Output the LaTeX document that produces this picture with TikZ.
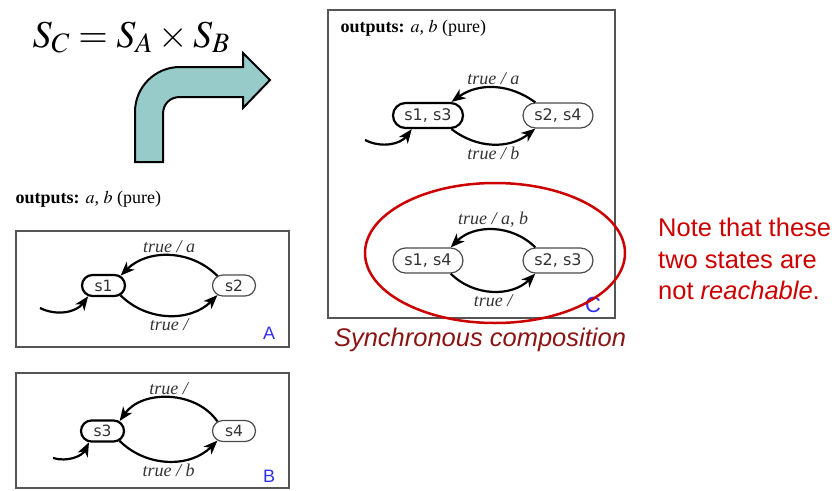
\documentclass[tikz,border=0pt]{standalone}
\usepackage{mathptmx}
\usepackage{fontspec}
\setmainfont{Liberation Serif}
\newfontfamily\arialf{Liberation Sans}
\newfontfamily\lucidaf{DejaVu Sans}
\usetikzlibrary{arrows.meta,shapes.misc}
\definecolor{boxgray}{HTML}{555555}
\definecolor{tealfill}{HTML}{96CBCA}
\definecolor{notered}{HTML}{CC0000}
\definecolor{darkred}{HTML}{8B1414}
\definecolor{letterblue}{HTML}{3030F0}
\definecolor{statetext}{HTML}{333333}
\tikzset{
  fsm/.style={draw=boxgray,line width=1.5pt},
  state/.style={rounded rectangle,draw=black!70,line width=1.2pt,inner sep=0pt,text=statetext},
  startstate/.style={draw=black,line width=2.2pt},
  smallst/.style={state,minimum width=43pt,minimum height=21pt,font=\lucidaf\fontsize{15.5}{17}\selectfont},
  bigst/.style={state,minimum width=70pt,minimum height=25pt,font=\lucidaf\fontsize{16}{18}\selectfont},
  trans/.style={-{Stealth[length=14pt,width=11pt,inset=4pt]},line width=2.2pt},
  lbl/.style={font=\fontsize{18}{20}\selectfont\itshape,text=statetext,inner sep=2pt},
  tag/.style={font=\arialf\fontsize{18}{20}\selectfont,text=letterblue}
}

\begin{document}
\begin{tikzpicture}[x=1pt,y=1pt]
\useasboundingbox (0,0) rectangle (838,-490);
% product of the state sets
\node[anchor=base west,font=\fontsize{38}{42}\selectfont] (eq) at (29,-47) {$S_C = S_A \times S_B$};
\filldraw[fill=tealfill,draw=black,line width=2pt,line join=miter]
  (135,-162) -- (135,-112) .. controls (135,-87) and (155,-67) .. (180,-67) -- (243,-67) -- (243,-53)
  -- (270,-80) -- (243,-108) -- (243,-97) -- (180,-97) .. controls (170,-97) and (163,-104) .. (163,-114)
  -- (163,-162) -- cycle;
\node[anchor=base west,font=\fontsize{18}{20}\selectfont] (outA) at (12,-203) {\textbf{outputs:} $a$, $b$ (pure)};

% machine A
\draw[fsm] (16,-231) rectangle (289,-347);
\node[smallst,startstate] (s1) at (103.5,-285.5) {s1};
\node[smallst] (s2) at (234,-285.5) {s2};
\coordinate (i1) at (40,-308);
\draw[trans] (s2.150) to[bend right=45] node[lbl,above] {true / a} (s1.30);
\draw[trans] (s1.-30) to[bend right=45] node[lbl,below] {true /} (s2.-150);
\draw[trans] (i1) to[bend right=40] (s1.-145);
\node[tag] (tagA) at (269,-333.5) {A};

% machine B
\draw[fsm] (16,-373) rectangle (289,-488);
\node[smallst,startstate] (s3) at (102.5,-431) {s3};
\node[smallst] (s4) at (234,-431) {s4};
\coordinate (i3) at (53,-458);
\draw[trans] (s4.150) to[bend right=55] node[lbl,above] {true /} (s3.30);
\draw[trans] (s3.-30) to[bend right=45] node[lbl,below] {true / b} (s4.-150);
\draw[trans] (i3) to[bend right=40] (s3.-140);
\node[tag] (tagB) at (269,-476) {B};

% machine C
\draw[fsm] (328,-10) rectangle (615,-318);
\node[anchor=base west,font=\fontsize{18}{20}\selectfont] (outC) at (337,-32) {\textbf{outputs:} $a$, $b$ (pure)};
\node[bigst,startstate] (s13) at (428,-115.5) {s1, s3};
\node[bigst] (s24) at (558,-115.5) {s2, s4};
\node[bigst] (s14) at (428,-260.5) {s1, s4};
\node[bigst] (s23) at (558,-260.5) {s2, s3};
\coordinate (i13) at (365,-140);
\draw[trans] (s24.150) to[bend right=36] node[lbl,above] {true / a} (s13.30);
\draw[trans] (s13.-30) to[bend right=38] node[lbl,below] {true / b} (s24.-150);
\draw[trans] (i13) to[bend right=40] (s13.-140);
\draw[trans] (s23.150) to[bend right=45] node[lbl,above] {true / a, b} (s14.30);
\draw[trans] (s14.-30) to[bend right=45] node[lbl,below] {true /} (s23.-150);
\node[tag,font=\arialf\fontsize{22}{24}\selectfont] (tagC) at (593,-305) {C};
\draw[notered,line width=2.5pt] (495,-253) ellipse [x radius=130,y radius=70];
\node[anchor=base,font=\arialf\itshape\fontsize{25.5}{28}\selectfont,text=darkred] (sync) at (480,-346) {Synchronous composition};

% remark
\node[anchor=north west,align=left,inner sep=0pt,font=\arialf\fontsize{25.5}{31.5}\selectfont,text=notered] (note) at (658,-218) {Note that these\\two states are\\not \textit{reachable}.};
\end{tikzpicture}
\end{document}
